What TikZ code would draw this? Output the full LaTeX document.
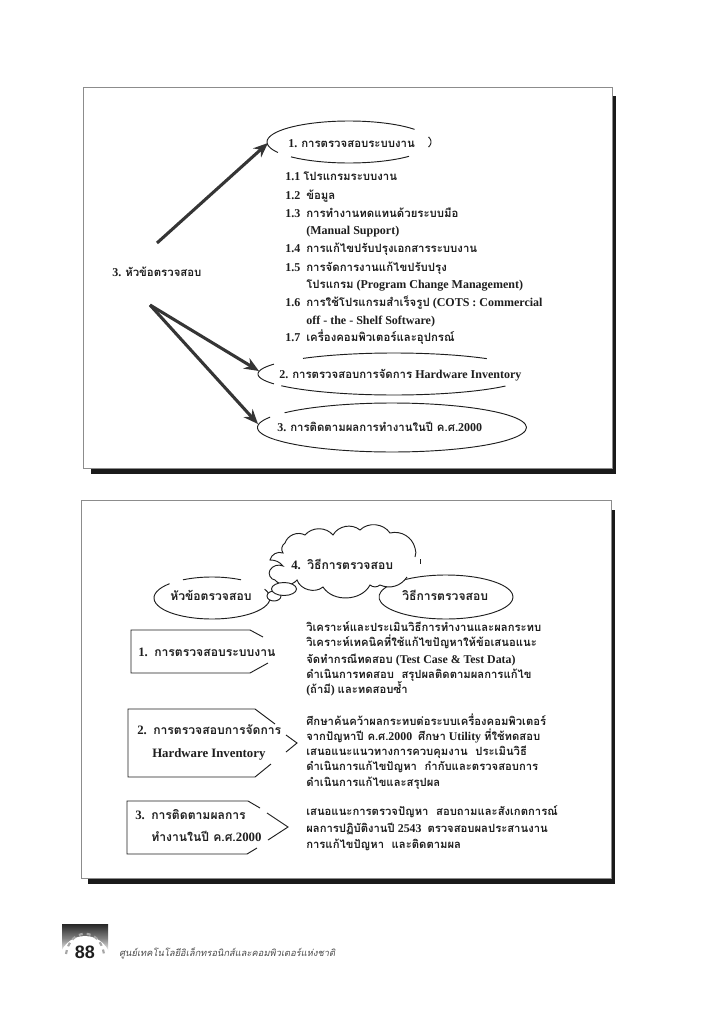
\documentclass[tikz,border=0pt]{standalone}
\usepackage{fontspec}
\usetikzlibrary{arrows.meta}
\setmainfont{Liberation Serif}
\setsansfont{Liberation Sans}
\newfontfamily\thaifont[Script=Thai,Scale=0.95]{Loma}
\newfontfamily\footfont[Script=Thai,FakeSlant=0.2]{Loma}
\newcommand{\T}[1]{{\thaifont #1}}
\newcommand{\earc}[6]{\draw[ink,domain=#5:#6,samples=40,smooth,variable=\t] plot ({#1+#3*cos(\t)},{#2+#4*sin(\t)});}
\definecolor{inkc}{HTML}{1E1E1E}
\definecolor{shadowc}{HTML}{1A1A1A}
\tikzset{
  txt/.style={anchor=base west,yshift=-2.3pt,inner sep=0pt,text=inkc,font=\fontsize{9}{11}\selectfont\bfseries},
  small/.style={txt,font=\fontsize{8.9}{10}\selectfont\bfseries},
  bigtxt/.style={txt,font=\fontsize{9.6}{11}\selectfont\bfseries},
  panel/.style={draw=black!45,fill=white,line width=.6pt},
  ink/.style={draw=inkc,line width=.7pt},
  bigarrow/.style={draw=inkc!90,line width=2.3pt,-{Stealth[length=11pt,width=9pt]}},
}
\begin{document}
\begin{tikzpicture}[x=.75pt,y=-.75pt]
\useasboundingbox (0,0) rectangle (716,1024);
\fill[white] (0,0) rectangle (716,1024);
% panel 1
\fill[shadowc] (91,96) rectangle (616,474);
\draw[panel] (83,87) rectangle (612,468);
% panel 2
\fill[shadowc] (88,510) rectangle (615,884);
\draw[panel] (81,500) rectangle (611,878);

% ellipse 1
\earc{349}{142}{82}{21}{150}{323}
\earc{349}{142}{82}{21}{43}{135}
\earc{349}{142}{82}{21}{-14}{14}
\node[txt] (e1) at (288,144) {1. \T{การตรวจสอบระบบงาน}};
% ellipse 2
\earc{394}{374}{136}{21}{228}{313}
\earc{394}{374}{136}{21}{35}{146}
\earc{394}{374}{136}{21}{152}{208}
\node[txt] (e2) at (279,375) {2. \T{การตรวจสอบการจัดการ} Hardware\ Inventory};
% ellipse 3
\earc{392}{427.5}{134.5}{24.5}{217}{510}
\earc{392}{427.5}{134.5}{24.5}{150}{205}
\node[txt] (e3) at (277,428) {3. \T{การติดตามผลการทำงานในปี ค.ศ.}2000};

\node[txt] (topic) at (112,273) {3. \T{หัวข้อตรวจสอบ}};
\coordinate (a0) at (157,243);
\coordinate (a1) at (268,143);
\coordinate (b0) at (150,305);
\coordinate (b1) at (259,371);
\coordinate (b2) at (258,424);
\draw[bigarrow] (a0) -- (a1);
\draw[bigarrow] (b0) -- (b1);
\draw[bigarrow] (b0) -- (b2);

\node[txt] (l1) at (285,177) {1.1 \T{โปรแกรมระบบงาน}};
\node[txt] (l2) at (285,196) {1.2\ \ \T{ข้อมูล}};
\node[txt] (l3) at (285,214) {1.3\ \ \T{การทำงานทดแทนด้วยระบบมือ}};
\node[txt] (l3b) at (306,231) {(Manual Support)};
\node[txt] (l4) at (285,249) {1.4\ \ \T{การแก้ไขปรับปรุงเอกสารระบบงาน}};
\node[txt] (l5) at (285,268) {1.5\ \ \T{การจัดการงานแก้ไขปรับปรุง}};
\node[txt] (l5b) at (306,285) {\T{โปรแกรม} (Program Change Management)};
\node[txt] (l6) at (285,303) {1.6\ \ \T{การใช้โปรแกรมสำเร็จรูป} (COTS : Commercial};
\node[txt] (l6b) at (306,321) {off - the - Shelf Software)};
\node[txt] (l7) at (285,338) {1.7\ \ \T{เครื่องคอมพิวเตอร์และอุปกรณ์}};

% second panel ovals
\earc{212}{598}{58}{21}{240}{300}
\earc{212}{598}{58}{21}{-25}{223}
\node[bigtxt] (h1) at (170,597) {\T{หัวข้อตรวจสอบ}};
\earc{446}{597}{67}{22}{0}{360}
\node[bigtxt] (h2) at (402,597) {\T{วิธีการตรวจสอบ}};
% cloud
\draw[ink,fill=white] (407,577) to[bend left=40] (380,585) to[bend left=40] (370,585)
  to[bend left=60] (323,587) to[bend left=55] (297,580) to[bend left=50] (275,580)
  to[bend left=60] (270,570) to[bend left=40] (283,566) -- (283,566) to[bend right=25] (270,560)
  to[bend left=50] (283,553) to[bend left=45] (285,543) to[bend left=50] (305,535)
  to[bend left=50] (333,535) to[bend left=50] (360,530) to[bend left=50] (390,533)
  to[bend left=45] (415,548) to[bend left=20] (415,557);
\draw[ink,fill=white] (274,596) ellipse (7 and 5);
\draw[ink,fill=white] (284,589) ellipse (12.5 and 6.5);
\coordinate (tick1) at (420,559);
\coordinate (tick2) at (420,564);
\draw[ink] (tick1) -- (tick2);
\node[bigtxt] (c4) at (291,566) {4.\ \ \T{วิธีการตรวจสอบ}};

% box 1
\draw[ink] (263,637) -- (250,630) -- (131,630) -- (131,673) -- (250,673) -- (268,663);
\node[bigtxt] (t1) at (138,653) {1.\ \ \T{การตรวจสอบระบบงาน}};
% box 2
\draw[ink] (275,724) -- (255,709) -- (128,709) -- (128,777) -- (255,777) -- (271,764);
\node[bigtxt] (t2) at (137,731) {2.\ \ \T{การตรวจสอบการจัดการ}};
\node[bigtxt] (t2b) at (152,754) {Hardware Inventory};
\draw[ink] (286,735) -- (297,743) -- (286,752);
% box 3
\draw[ink] (260,808) -- (248,801) -- (127,801) -- (127,854) -- (247,854) -- (257,848);
\node[bigtxt] (t3) at (135,816) {3.\ \ \T{การติดตามผลการ}};
\node[bigtxt] (t3b) at (151,838) {\T{ทำงานในปี ค.ศ.}2000};
\draw[ink] (267,813) -- (288,827) -- (268,840);

\node[small] (r1) at (306,628) {\T{วิเคราะห์และประเมินวิธีการทำงานและผลกระทบ}};
\node[small] (r2) at (306,643) {\T{วิเคราะห์เทคนิคที่ใช้แก้ไขปัญหาให้ข้อเสนอแนะ}};
\node[small] (r3) at (306,660) {\T{จัดทำกรณีทดสอบ} (Test Case \& Test Data)};
\node[small] (r4) at (306,675) {\T{ดำเนินการทดสอบ\ \ สรุปผลติดตามผลการแก้ไข}};
\node[small] (r5) at (306,690) {(\T{ถ้ามี}) \T{และทดสอบซ้ำ}};
\node[small] (r6) at (306,722) {\T{ศึกษาค้นคว้าผลกระทบต่อระบบเครื่องคอมพิวเตอร์}};
\node[small] (r7) at (306,737) {\T{จากปัญหาปี ค.ศ.}2000\ \ \T{ศึกษา} Utility \T{ที่ใช้ทดสอบ}};
\node[small] (r8) at (306,752) {\T{เสนอแนะแนวทางการควบคุมงาน\ \ ประเมินวิธี}};
\node[small] (r9) at (306,767) {\T{ดำเนินการแก้ไขปัญหา\ \ กำกับและตรวจสอบการ}};
\node[small] (r10) at (306,783) {\T{ดำเนินการแก้ไขและสรุปผล}};
\node[small] (r11) at (306,812) {\T{เสนอแนะการตรวจปัญหา\ \ สอบถามและสังเกตการณ์}};
\node[small] (r12) at (306,829) {\T{ผลการปฏิบัติงานปี} 2543\ \ \T{ตรวจสอบผลประสานงาน}};
\node[small] (r13) at (306,845) {\T{การแก้ไขปัญหา\ \ และติดตามผล}};

% footer logo
\shade[top color=black!85,bottom color=white,middle color=black!50] (62,924) rectangle (108,952);
\fill[white] (62,952) rectangle (108,965);
\fill[white] (85,962) circle (26);
\draw[black!35,line width=1.6pt,dash pattern=on 3pt off 3pt] (66,954) .. controls (70,927) and (100,927) .. (104,954);
\node[inner sep=0pt,text=inkc,font=\fontsize{13.5}{13.5}\selectfont\sffamily\bfseries] (n88) at (85,952) {88};
\node[anchor=west,inner sep=0pt,text=black!70,font=\fontsize{7}{10}\selectfont] (foot) at (119,953) {\footfont ศูนย์เทคโนโลยีอิเล็กทรอนิกส์และคอมพิวเตอร์แห่งชาติ};
\end{tikzpicture}
\end{document}
